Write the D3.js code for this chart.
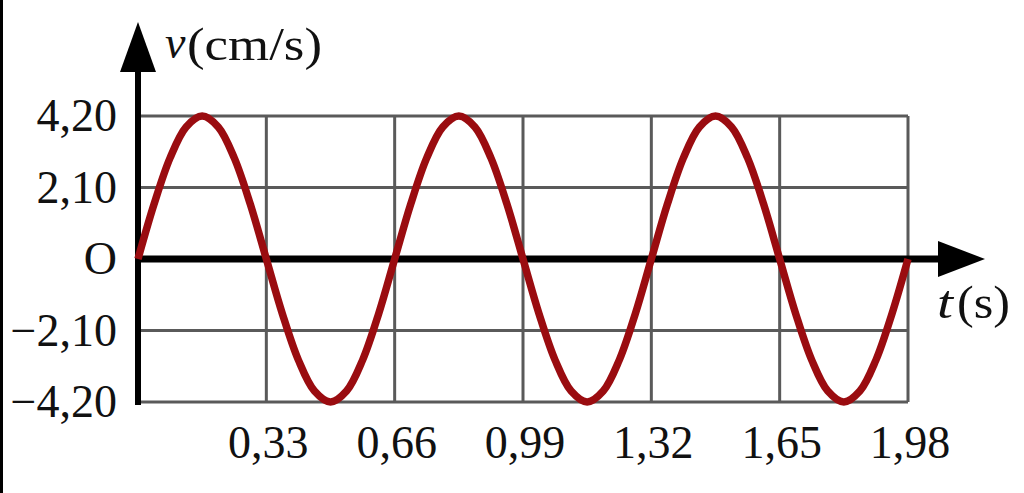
<!DOCTYPE html>
<html><head><meta charset="utf-8">
<script src="https://cdn.jsdelivr.net/npm/d3@7"></script>
<style>
html,body{margin:0;padding:0;background:#fff;}
svg{display:block;}
text{font-family:"Liberation Serif","Times New Roman",serif;fill:#111;}
</style></head>
<body>
<script>
// Data
const tValues = [0,0.04125,0.0825,0.12375,0.165,0.20625,0.2475,0.28875,0.33,
  0.37125,0.4125,0.45375,0.495,0.53625,0.5775,0.61875,0.66,
  0.70125,0.7425,0.78375,0.825,0.86625,0.9075,0.94875,0.99,
  1.03125,1.0725,1.11375,1.155,1.19625,1.2375,1.27875,1.32,
  1.36125,1.4025,1.44375,1.485,1.52625,1.5675,1.60875,1.65,
  1.69125,1.7325,1.77375,1.815,1.85625,1.8975,1.93875,1.98];
const vValues = [0,1.61,2.97,3.88,4.20,3.88,2.97,1.61,0,
  -1.61,-2.97,-3.88,-4.20,-3.88,-2.97,-1.61,0,
  1.61,2.97,3.88,4.20,3.88,2.97,1.61,0,
  -1.61,-2.97,-3.88,-4.20,-3.88,-2.97,-1.61,0,
  1.61,2.97,3.88,4.20,3.88,2.97,1.61,0,
  -1.61,-2.97,-3.88,-4.20,-3.88,-2.97,-1.61,0];
const xTicks = [0.33,0.66,0.99,1.32,1.65,1.98];
const xTickLabels = ["0,33","0,66","0,99","1,32","1,65","1,98"];
const yTicks = [4.20,2.10,0,-2.10,-4.20];
const yTickLabels = ["4,20","2,10","O","\u22122,10","\u22124,20"];

const W = 1024, H = 493;
const svg = d3.select("body").append("svg").attr("width",W).attr("height",H);
svg.append("rect").attr("width",W).attr("height",H).attr("fill","#fff");
// black strip on left edge
svg.append("rect").attr("x",0).attr("y",0).attr("width",3).attr("height",H).attr("fill","#000");

const x = d3.scaleLinear().domain([0,1.98]).range([138,908]);
const y = d3.scaleLinear().domain([-4.2,4.2]).range([402,116]);

// grid
const grid = svg.append("g").attr("stroke","#5a5a5a").attr("stroke-width",3);
yTicks.filter(d=>d!==0).forEach(d=>{
  grid.append("line").attr("x1",x(0)).attr("x2",x(1.98)).attr("y1",y(d)).attr("y2",y(d));
});
xTicks.forEach(d=>{
  grid.append("line").attr("x1",x(d)).attr("x2",x(d)).attr("y1",y(4.2)).attr("y2",y(-4.2));
});

// axes
svg.append("line").attr("x1",x(0)).attr("x2",x(0)).attr("y1",y(-4.2)+3).attr("y2",60)
  .attr("stroke","#000").attr("stroke-width",6);
svg.append("path").attr("d",`M${x(0)},22 L${x(0)+18},72 L${x(0)-18},72 Z`).attr("fill","#000");
svg.append("line").attr("x1",x(0)).attr("x2",950).attr("y1",y(0)).attr("y2",y(0))
  .attr("stroke","#000").attr("stroke-width",7);
svg.append("path").attr("d",`M985,${y(0)} L938,${y(0)-18} L938,${y(0)+18} Z`).attr("fill","#000");

// curve
const pts = tValues.map((t,i)=>[t,vValues[i]]);
svg.append("path").datum(pts)
  .attr("d",d3.line().x(d=>x(d[0])).y(d=>y(d[1])).curve(d3.curveCatmullRom.alpha(0.5)))
  .attr("fill","none").attr("stroke","#9a0c10").attr("stroke-width",7.5).attr("stroke-linejoin","round");

// tick labels
svg.append("g").selectAll("text").data(yTicks).join("text")
  .attr("x",117).attr("y",d=>y(d)+15).attr("text-anchor","end")
  .attr("font-size",46).text((d,i)=>yTickLabels[i]);
svg.append("g").selectAll("text").data(xTicks).join("text")
  .attr("x",d=>x(d)+2).attr("y",458).attr("text-anchor","middle")
  .attr("font-size",46).text((d,i)=>xTickLabels[i]);

// axis titles
svg.append("text").attr("x",165).attr("y",58).attr("font-size",46)
  .attr("font-style","italic").text("v");
svg.append("text").attr("x",187).attr("y",60).attr("font-size",46)
  .attr("textLength",135).attr("lengthAdjust","spacingAndGlyphs").text("(cm/s)");
svg.append("text").attr("x",937).attr("y",318).attr("font-size",46)
  .attr("font-style","italic").attr("textLength",16).attr("lengthAdjust","spacingAndGlyphs").text("t");
svg.append("text").attr("x",957).attr("y",318).attr("font-size",46)
  .attr("textLength",53).attr("lengthAdjust","spacingAndGlyphs").text("(s)");
</script>
</body></html>
